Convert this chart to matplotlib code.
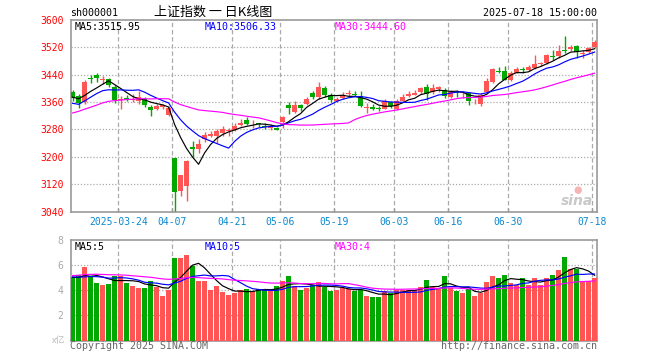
import matplotlib
matplotlib.use("Agg")
import matplotlib.pyplot as plt
import numpy as np
import pandas as pd

# trading days shown (2025)
dates = (
    ["03-12", "03-13", "03-14", "03-17", "03-18", "03-19", "03-20", "03-21", "03-24", "03-25",
     "03-26", "03-27", "03-28", "03-31"]
    + ["04-01", "04-02", "04-03", "04-07", "04-08", "04-09", "04-10", "04-11", "04-14", "04-15",
       "04-16", "04-17", "04-18", "04-21", "04-22", "04-23", "04-24", "04-25", "04-28", "04-29", "04-30"]
    + ["05-06", "05-07", "05-08", "05-09", "05-12", "05-13", "05-14", "05-15", "05-16", "05-19",
       "05-20", "05-21", "05-22", "05-23", "05-26", "05-27", "05-28", "05-29", "05-30"]
    + ["06-03", "06-04", "06-05", "06-06", "06-09", "06-10", "06-11", "06-12", "06-13", "06-16",
       "06-17", "06-18", "06-19", "06-20", "06-23", "06-24", "06-25", "06-26", "06-27", "06-30"]
    + ["07-01", "07-02", "07-03", "07-04", "07-07", "07-08", "07-09", "07-10", "07-11", "07-14",
       "07-15", "07-16", "07-17", "07-18"]
)

opens = [3389, 3378, 3361, 3430, 3439, 3424, 3428, 3405, 3365, 3373,
         3367, 3362, 3370, 3346, 3340, 3347, 3321, 3197, 3100, 3114,
         3229, 3222, 3253, 3262, 3262, 3270, 3275, 3279, 3293, 3308,
         3295, 3298, 3291, 3285, 3283, 3302, 3352, 3332, 3350, 3355,
         3386, 3376, 3400, 3381, 3364, 3372, 3384, 3385, 3378, 3343,
         3346, 3342, 3341, 3360, 3340, 3363, 3378, 3382, 3390, 3405,
         3388, 3398, 3394, 3375, 3390, 3386, 3386, 3359, 3354, 3389,
         3420, 3452, 3452, 3425, 3446, 3458, 3453, 3460, 3470, 3474,
         3496, 3494, 3513, 3515, 3525, 3500, 3505, 3520]
highs = [3394, 3383, 3424, 3438, 3444, 3436, 3431, 3410, 3378, 3381,
         3385, 3392, 3375, 3351, 3354, 3354, 3348, 3197, 3148, 3190,
         3246, 3251, 3272, 3275, 3280, 3290, 3283, 3299, 3310, 3315,
         3307, 3300, 3298, 3295, 3288, 3318, 3360, 3362, 3355, 3374,
         3392, 3420, 3407, 3387, 3376, 3390, 3394, 3391, 3391, 3357,
         3353, 3349, 3370, 3363, 3370, 3383, 3391, 3394, 3405, 3412,
         3414, 3408, 3402, 3395, 3395, 3391, 3389, 3369, 3386, 3429,
         3461, 3462, 3466, 3451, 3462, 3462, 3469, 3498, 3478, 3500,
         3513, 3528, 3553, 3526, 3527, 3511, 3522, 3542]
lows = [3364, 3343, 3355, 3415, 3420, 3413, 3405, 3358, 3340, 3363,
        3360, 3353, 3347, 3320, 3336, 3340, 3318, 3040.69, 3085, 3070,
        3200, 3212, 3243, 3257, 3240, 3262, 3262, 3276, 3290, 3293,
        3283, 3287, 3280, 3277, 3277, 3285, 3324, 3328, 3335, 3352,
        3370, 3370, 3376, 3360, 3360, 3370, 3378, 3378, 3346, 3329,
        3336, 3334, 3339, 3344, 3338, 3362, 3376, 3380, 3385, 3366,
        3384, 3390, 3372, 3371, 3376, 3373, 3352, 3355, 3348, 3386,
        3416, 3444, 3424, 3423, 3444, 3444, 3451, 3456, 3465, 3472,
        3484, 3490, 3504, 3510, 3488, 3490, 3503, 3518]
closes = [3371.92, 3358.73, 3419.56, 3426.13, 3429.76, 3426.43, 3408.95, 3364.83, 3370.03, 3369.98,
          3368.70, 3373.75, 3351.31, 3335.75, 3348.44, 3350.13, 3342.01, 3096.58, 3145.55, 3186.81,
          3223.64, 3238.23, 3262.81, 3267.66, 3276.00, 3280.34, 3276.73, 3291.43, 3299.76, 3296.36,
          3297.29, 3295.06, 3288.41, 3286.65, 3279.03, 3316.11, 3342.67, 3352.00, 3342.00, 3369.24,
          3374.87, 3403.95, 3380.82, 3367.46, 3367.58, 3380.48, 3387.57, 3380.19, 3348.37, 3346.84,
          3340.69, 3339.93, 3363.45, 3347.49, 3361.98, 3376.20, 3384.10, 3385.36, 3399.77, 3384.82,
          3402.32, 3402.66, 3377.00, 3388.81, 3387.40, 3388.81, 3362.11, 3359.90, 3381.58, 3420.57,
          3455.97, 3448.45, 3424.23, 3444.43, 3457.75, 3454.79, 3461.15, 3472.32, 3473.13, 3497.48,
          3493.05, 3509.68, 3510.18, 3519.65, 3505.00, 3503.78, 3516.83, 3534.48]
volumes = [5.04, 5.23, 5.87, 5.17, 4.59, 4.43, 4.51, 5.17, 5.15, 4.59,
           4.35, 4.21, 4.21, 4.75, 4.29, 3.55, 4.03, 6.59, 6.59, 6.83,
           5.97, 4.75, 4.75, 4.03, 4.35, 3.87, 3.63, 3.79, 4.03, 4.11,
           3.95, 4.11, 4.11, 3.95, 4.35, 4.75, 5.15, 4.35, 4.03, 4.19,
           4.43, 4.67, 4.27, 3.95, 4.03, 4.19, 4.11, 3.95, 4.03, 3.55,
           3.47, 3.47, 3.95, 3.79, 4.03, 4.03, 4.03, 4.03, 4.27, 4.83,
           4.27, 4.11, 5.15, 4.19, 3.95, 3.79, 4.11, 3.55, 3.79, 4.67,
           5.15, 4.99, 5.23, 4.59, 4.43, 4.99, 4.43, 4.99, 4.43, 4.99,
           5.23, 5.63, 6.67, 5.73, 5.73, 4.75, 4.75, 4.99]

# sessions before the window, only used to warm up the moving averages
prior_closes = [3213.62, 3230.16, 3252.63, 3250.60, 3229.49, 3270.66, 3303.67, 3322.17, 3318.06, 3346.39,
                3332.48, 3346.72, 3355.83, 3324.49, 3351.54, 3350.78, 3379.11, 3373.03, 3346.04, 3380.21,
                3388.06, 3320.90, 3316.93, 3324.21, 3341.96, 3381.10, 3372.55, 3366.16, 3379.83]
prior_volumes = [4.2, 4.5, 4.6, 4.3, 4.9, 5.1, 5.5, 5.4, 5.2, 5.8,
                 5.3, 5.4, 6.0, 6.2, 5.5, 5.1, 5.7, 5.4, 4.9, 5.3,
                 5.4, 5.7, 4.9, 4.7, 4.8, 5.3, 5.1, 4.8, 4.9]

tick_labels = ["2025-03-24", "04-07", "04-21", "05-06", "05-19", "06-03", "06-16", "06-30", "07-18"]

RED = "#ff5555"
GREEN = "#00a800"
GRID = "#aaaaaa"
FRAME = "#999999"
MONO = "DejaVu Sans Mono"
CJK = ["Noto Sans CJK SC", "DejaVu Sans"]

n = len(closes)
x = np.arange(n)
o = np.array(opens, float)
c = np.array(closes, float)
h = np.array(highs, float)
l = np.array(lows, float)
v = np.array(volumes, float)
up = c >= o
colors = np.where(up, RED, GREEN)

close_all = pd.Series(prior_closes + closes)
vol_all = pd.Series(prior_volumes + volumes)
ma = {k: close_all.rolling(k).mean().to_numpy()[-n:] for k in (5, 10, 30)}
vma = {k: vol_all.rolling(k).mean().to_numpy()[-n:] for k in (5, 10, 30)}
ma_colors = {5: "black", 10: "#0000ff", 30: "#ff00ff"}

W, H = 660, 360
fig = plt.figure(figsize=(W / 100, H / 100), dpi=100)


def px(left, top, right, bottom):
    return [left / W, 1 - bottom / H, (right - left) / W, (bottom - top) / H]


ax = fig.add_axes(px(70.5, 20, 597, 211.5))
axv = fig.add_axes(px(70.5, 240, 597, 340.5))

tick_pos = [dates.index(t[-5:]) for t in tick_labels]
xlim = (-0.35, n - 0.6)

for a in (ax, axv):
    a.set_xlim(*xlim)
    for s in a.spines.values():
        s.set_color(FRAME)
        s.set_linewidth(1.2)
    for p in tick_pos:
        a.axvline(p - 0.4, color=GRID, lw=0.9, ls=(0, (3.5, 2.2)), zorder=0)
    a.set_xticks([p - 0.4 for p in tick_pos])
    a.tick_params(axis="x", direction="in", length=3, color=FRAME, width=1)
    a.tick_params(axis="y", length=0)

# candles
ax.set_ylim(3040, 3600)
ax.vlines(x, l, h, colors=colors, lw=1.0, zorder=3)
body = np.maximum(np.abs(c - o), 2.0)
ax.bar(x, body, bottom=np.minimum(o, c), width=0.82, color=colors, linewidth=0, zorder=4)
for k in (5, 10, 30):
    ax.plot(x, ma[k], color=ma_colors[k], lw=0.85, zorder=5)
yt = np.arange(3040, 3601, 80)
ax.set_yticks(yt)
for y in yt[1:-1]:
    ax.axhline(y, color=GRID, lw=0.9, ls=(0, (1, 1.5)), zorder=0)
ax.set_yticklabels([str(t) for t in yt], color="red", fontsize=7, family=MONO)
ax.tick_params(axis="y", pad=5)
ax.set_xticklabels(tick_labels, color="#0a88d0", fontsize=7, family=MONO)
ax.tick_params(axis="x", pad=4)

# volume
axv.set_ylim(0, 8)
axv.bar(x, v, width=0.82, color=colors, linewidth=0, zorder=3)
for k in (5, 10, 30):
    axv.plot(x, vma[k], color=ma_colors[k], lw=0.85, zorder=5)
for y in (2, 4, 6):
    axv.axhline(y, color=GRID, lw=0.9, ls=(0, (1, 1.5)), zorder=1)
axv.set_yticks([2, 4, 6, 8])
axv.set_yticklabels(["2", "4", "6", "8"], color="#aaaaaa", fontsize=7, family=MONO)
axv.tick_params(axis="y", pad=5)
axv.set_xticklabels([])


def ftext(xp, yp, s, **kw):
    kw.setdefault("family", MONO)
    kw.setdefault("fontsize", 7.2)
    kw.setdefault("va", "center")
    fig.text(xp / W, 1 - yp / H, s, **kw)


ftext(70, 13, "sh000001")
ftext(213.5, 12.5, "上证指数 一 日K线图", family=CJK, fontsize=9.4, ha="center")
ftext(597, 12.5, "2025-07-18 15:00:00", ha="right")

ftext(74.5, 26.5, f"MA5:{ma[5][-1]:.2f}", color="black")
ftext(204.5, 26.5, f"MA10:{ma[10][-1]:.2f}", color="#0000ff")
ftext(334.5, 26.5, f"MA30:{ma[30][-1]:.2f}", color="#ff00ff")

ftext(74.5, 246.5, f"MA5:{int(vma[5][-1])}", color="black")
ftext(204.5, 246.5, f"MA10:{int(vma[10][-1])}", color="#0000ff")
ftext(334.5, 246.5, f"MA30:{int(vma[30][-1])}", color="#ff00ff")

ftext(65, 341, "x亿", family=CJK, fontsize=6.5, color="#bbbbbb", ha="right")
ftext(70, 346, "Copyright 2025 SINA.COM", color="#666666")
ftext(597, 346, "http://finance.sina.com.cn", color="#666666", ha="right")

# faint sina watermark
ftext(577, 201, "sina", family="DejaVu Sans", fontsize=10, fontweight="bold",
      style="italic", color="#c8c8c8", ha="center", zorder=6)
ftext(578, 190, "●", family="DejaVu Sans", fontsize=7, color="#f5b5b5", ha="center", zorder=6)

fig.savefig("out.png", dpi=100)
